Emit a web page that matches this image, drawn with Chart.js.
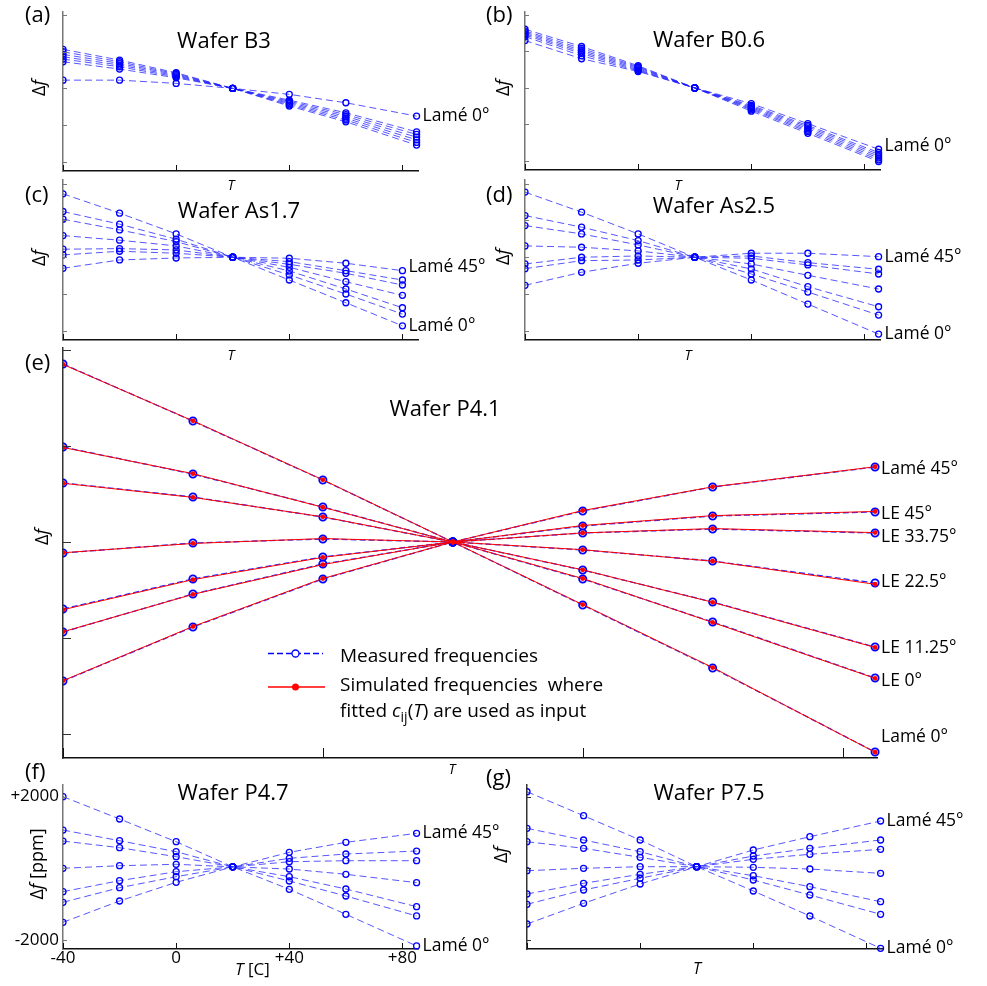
<!DOCTYPE html>
<html>
<head>
<meta charset="utf-8">
<script src="https://cdn.jsdelivr.net/npm/chart.js@4.4.0/dist/chart.umd.min.js"></script>
<style>
  html, body { margin: 0; padding: 0; background: #fff; }
  #wrap { position: relative; width: 987px; height: 986px; overflow: hidden; }
  #wrap canvas { position: absolute; left: 0; top: 0; }
</style>
</head>
<body>
<div id="wrap"></div>
<script>
// Temperature steps (C)
const temps = [-40, -20, 0, 20, 40, 60, 85];
const tempsAs17 = [-40, -20, 0, 20, 40, 60, 80];

// tick values
const xTickVals = [-40, 0, 40, 80];
const yTicks5 = [-2000, -1000, 0, 1000, 2000];
const yTicks3 = [-2000, 0, 2000];

// (a) Wafer B3 : delta f, one row per mode
const waferB3 = [
  [1063, 771, 425, 0, -482, -910, -1545],
  [997, 725, 398, 0, -450, -861, -1471],
  [927, 681, 371, 0, -417, -812, -1400],
  [861, 635, 343, 0, -384, -763, -1327],
  [798, 589, 316, 0, -351, -714, -1253],
  [725, 526, 289, 0, -319, -665, -1183],
  [224, 224, 136, 0, -163, -392, -755]
];
const namesB3 = ["", "", "", "", "", "", "Lamé 0°"];

// (b) Wafer B0.6
const waferB06 = [
  [1608, 1134, 608, 0, -637, -1245, -2017],
  [1561, 1080, 580, 0, -600, -1200, -1970],
  [1526, 1030, 555, 0, -570, -1160, -1920],
  [1488, 985, 525, 0, -540, -1115, -1870],
  [1452, 940, 495, 0, -510, -1070, -1820],
  [1406, 880, 470, 0, -480, -1030, -1771],
  [1297, 799, 450, 0, -430, -980, -1681]
];
const namesB06 = ["", "", "", "", "", "", "Lamé 0°"];

// (c) Wafer As1.7
const waferAs17 = [
  [1725, 1199, 635, 0, -619, -1237, -1864],
  [1243, 899, 490, 0, -482, -1000, -1545],
  [1035, 744, 425, 0, -373, -864, -1373],
  [589, 463, 308, 0, -273, -665, -1036],
  [218, 234, 199, 0, -191, -436, -755],
  [63, 163, 109, 0, -120, -365, -619],
  [-300, -74, -20, 0, -27, -163, -365]
];
const namesAs17 = ["Lamé 0°", "", "", "", "", "", "Lamé 45°"];

// (d) Wafer As2.5
const waferAs25 = [
  [1771, 1226, 635, 0, -619, -1273, -2090],
  [1134, 818, 452, 0, -455, -946, -1572],
  [861, 635, 335, 0, -319, -801, -1346],
  [308, 272, 172, 0, -183, -491, -864],
  [-183, 0, 35, 0, -27, -210, -455],
  [-311, -93, -74, 0, 35, -147, -327],
  [-763, -409, -164, 0, 109, 109, 16]
];
const namesAs25 = ["Lamé 0°", "", "", "", "", "", "Lamé 45°"];

// (e) Wafer P4.1, measured and simulated
const waferP41 = [
  [1854, 1260, 646, 0, -656, -1312, -2187],
  [990, 708, 365, 0, -385, -833, -1417],
  [615, 469, 260, 0, -292, -625, -1094],
  [-115, -10, 31, 0, -83, -198, -427],
  [-698, -385, -156, 0, 94, 135, 94],
  [-938, -542, -229, 0, 167, 271, 313],
  [-1448, -885, -385, 0, 323, 573, 781]
];
const simP41 = [
  [1850, 1262, 648, 0, -652, -1308, -2190],
  [985, 712, 362, 0, -380, -838, -1420],
  [612, 465, 262, 0, -290, -628, -1098],
  [-112, -15, 36, 0, -80, -200, -440],
  [-705, -392, -160, 0, 95, 140, 98],
  [-935, -545, -235, 0, 172, 275, 318],
  [-1445, -880, -380, 0, 328, 575, 784]
];
const namesP41 = ["Lamé 0°", "LE 0°", "LE 11.25°", "LE 22.5°", "LE 33.75°", "LE 45°", "Lamé 45°"];

// (f) Wafer P4.7
const waferP47 = [
  [2000, 1376, 742, 40, -586, -1283, -2167],
  [1068, 770, 463, 40, -354, -773, -1330],
  [760, 575, 324, 40, -234, -577, -1070],
  [0, 73, 112, 40, -20, -167, -401],
  [-652, -345, -95, 40, 184, 212, 212],
  [-949, -541, -234, 40, 279, 399, 482],
  [-1507, -912, -391, 40, 446, 725, 976]
];
const namesP47 = ["Lamé 0°", "", "", "", "", "", "Lamé 45°"];

// (g) Wafer P7.5
const waferP75 = [
  [2137, 1468, 790, 45, -633, -1331, -2232],
  [1116, 790, 463, 45, -326, -745, -1283],
  [742, 558, 307, 45, -206, -513, -932],
  [-67, 0, 45, 45, 28, -20, -140],
  [-717, -419, -167, 45, 251, 391, 530],
  [-1004, -605, -279, 45, 343, 558, 790],
  [-1554, -977, -438, 45, 511, 882, 1320]
];
const namesP75 = ["Lamé 0°", "", "", "", "", "", "Lamé 45°"];

const W = 987, H = 986;
const FAM = '"Open Sans", "Noto Sans", sans-serif';
const wrap = document.getElementById("wrap");

// draw text made of several runs (normal / italic / subscript)
function runs(ctx, parts, x, y, align) {
  ctx.textAlign = "left";
  let w = 0;
  parts.forEach(p => { ctx.font = p[1]; w += ctx.measureText(p[0]).width; });
  let cx = x;
  if (align === "center") cx = x - w / 2;
  if (align === "right") cx = x - w;
  parts.forEach(p => {
    ctx.font = p[1];
    ctx.fillText(p[0], cx, y + (p[2] || 0));
    cx += ctx.measureText(p[0]).width;
  });
}

const signed = v => (v > 0 ? "+" + v : String(v));

const panels = [
  { rows: waferB3, names: namesB3, T: temps, title: "Wafer B3", letter: "(a)",
    box: [63, 12, 418, 171], ymin: -2250, ymax: 2080, yTicks: yTicks5, xmax: 85.5,
    yCol: "#777", tick: [4, 6], letterAt: [25, 22], titleAt: [224, 48], tAt: [231, 190], dfAt: [40, 88], lblDy: [0, 0, 0, 0, 0, 0, 0] },
  { rows: waferB06, names: namesB06, T: temps, title: "Wafer B0.6", letter: "(b)",
    box: [525, 12, 880, 170], ymin: -2250, ymax: 2080, yTicks: yTicks5, xmax: 85.5,
    yCol: "#777", tick: [4, 6], letterAt: [486, 22], titleAt: [709, 47], tAt: [678, 190], dfAt: [504, 88], lblDy: [0, 0, 0, 0, 0, 0, -3] },
  { rows: waferAs17, names: namesAs17, T: tempsAs17, title: "Wafer As1.7", letter: "(c)",
    box: [63, 180, 418, 340], ymin: -2250, ymax: 2100, yTicks: yTicks5, xmax: 85.5,
    yCol: "#777", tick: [4, 6], letterAt: [25, 202], titleAt: [239, 218], tAt: [231, 360], dfAt: [40, 258], lblDy: [0, 0, 0, 0, 0, 0, -4] },
  { rows: waferAs25, names: namesAs25, T: temps, title: "Wafer As2.5", letter: "(d)",
    box: [525, 180, 880, 340], ymin: -2250, ymax: 2100, yTicks: yTicks5, xmax: 85.5,
    yCol: "#777", tick: [4, 6], letterAt: [486, 202], titleAt: [714, 213], tAt: [688, 360], dfAt: [504, 257], lblDy: [0, 0, 0, 0, 0, 0, 0] },
  { rows: waferP41, sim: simP41, names: namesP41, T: temps, title: "Wafer P4.1", letter: "(e)",
    box: [63, 348, 877, 758], ymin: -2250, ymax: 2021, yTicks: yTicks5, xmax: 85.3,
    yCol: "#333", tick: [8, 10], letterAt: [25, 370], titleAt: [445, 416], tAt: [452, 774], dfAt: [43, 537],
    lblDy: [-15, 3, 1, -1, 4, 2, 2], legend: true },
  { rows: waferP47, names: namesP47, T: temps, title: "Wafer P4.7", letter: "(f)",
    box: [63, 785, 418, 949], ymin: -2252, ymax: 2325, yTicks: yTicks3, xmax: 85.5,
    yCol: "#777", tick: [4, 6], letterAt: [25, 779], titleAt: [233, 800], tAt: [235, 975], dfAt: [38, 864],
    lblDy: [0, 0, 0, 0, 0, 0, 0], labelled: true },
  { rows: waferP75, names: namesP75, T: temps, title: "Wafer P7.5", letter: "(g)",
    box: [527, 785, 882, 949], ymin: -2252, ymax: 2325, yTicks: yTicks3, xmax: 85.5,
    yCol: "#333", tick: [4, 6], letterAt: [486, 785], titleAt: [709, 800], tAt: [697, 974], dfAt: [502, 855],
    lblDy: [0, 0, 0, 0, 0, 0, 0] }
];

function decor(p) {
  return {
    id: "decor",
    afterDatasetsDraw(chart) {
      const { ctx, chartArea: ca, scales: { x, y } } = chart;
      ctx.save();
      // inward tick marks
      ctx.lineWidth = 1;
      ctx.strokeStyle = p.yCol;
      y.ticks.forEach(tk => {
        const py = Math.round(y.getPixelForValue(tk.value)) + 0.5;
        ctx.beginPath(); ctx.moveTo(ca.left, py); ctx.lineTo(ca.left + p.tick[0], py); ctx.stroke();
      });
      ctx.strokeStyle = "#111";
      x.ticks.forEach(tk => {
        const px = Math.round(x.getPixelForValue(tk.value)) + 0.5;
        ctx.beginPath(); ctx.moveTo(px, ca.bottom); ctx.lineTo(px, ca.bottom - p.tick[1]); ctx.stroke();
      });

      ctx.fillStyle = "#000";
      // tick labels (only panel f has them)
      if (p.labelled) {
        const tf = "17px " + FAM;
        ctx.textBaseline = "middle";
        y.ticks.forEach(tk => {
          if (tk.value === 0) return;
          runs(ctx, [[signed(tk.value), tf]], ca.left - 4, y.getPixelForValue(tk.value), "right");
        });
        ctx.textBaseline = "top";
        x.ticks.forEach(tk => {
          runs(ctx, [[signed(tk.value), tf]], x.getPixelForValue(tk.value), ca.bottom + 1, "center");
        });
      }

      ctx.textBaseline = "alphabetic";
      runs(ctx, [[p.letter, "22px " + FAM]], p.letterAt[0], p.letterAt[1]);
      runs(ctx, [[p.title, "22px " + FAM]], p.titleAt[0], p.titleAt[1], "center");

      // x axis title
      if (p.labelled) {
        runs(ctx, [["T", "italic 17px " + FAM], [" [C]", "17px " + FAM]], p.tAt[0], p.tAt[1]);
      } else {
        const fs = p.letter === "(g)" ? 16 : 14;
        runs(ctx, [["T", "italic " + fs + "px " + FAM]], p.tAt[0], p.tAt[1], "center");
      }

      // y axis title
      ctx.save();
      ctx.translate(p.dfAt[0], p.dfAt[1]);
      ctx.rotate(-Math.PI / 2);
      ctx.textBaseline = "middle";
      const df = [["Δ", "18px " + FAM], ["f", "italic 18px " + FAM]];
      if (p.labelled) df.push([" [ppm]", "18px " + FAM]);
      runs(ctx, df, 0, 0, "center");
      ctx.restore();

      // mode labels at the right end of the series
      ctx.textBaseline = "middle";
      const lastT = p.T[p.T.length - 1];
      p.names.forEach((nm, i) => {
        if (!nm) return;
        const row = p.rows[i];
        const px = x.getPixelForValue(lastT) + 6;
        const py = y.getPixelForValue(row[row.length - 1]) + p.lblDy[i];
        runs(ctx, [[nm, "17.5px " + FAM]], px, py);
      });

      if (p.legend) {
        ctx.textBaseline = "alphabetic";
        ctx.lineWidth = 1.3;
        ctx.strokeStyle = "#0000ff";
        ctx.setLineDash([6, 3]);
        ctx.beginPath(); ctx.moveTo(268, 653.5); ctx.lineTo(323, 653.5); ctx.stroke();
        ctx.setLineDash([]);
        ctx.fillStyle = "#fff";
        ctx.beginPath(); ctx.arc(295.5, 653.5, 3.5, 0, Math.PI * 2); ctx.fill(); ctx.stroke();
        ctx.strokeStyle = "#ff0000";
        ctx.lineWidth = 1.5;
        ctx.beginPath(); ctx.moveTo(268, 687); ctx.lineTo(325, 687); ctx.stroke();
        ctx.fillStyle = "#ff0000";
        ctx.beginPath(); ctx.arc(295.5, 687, 3.5, 0, Math.PI * 2); ctx.fill();
        ctx.fillStyle = "#000";
        const f = "19px " + FAM, fi = "italic 19px " + FAM;
        runs(ctx, [["Measured frequencies", f]], 340, 662);
        runs(ctx, [["Simulated frequencies  where", f]], 340, 691);
        runs(ctx, [["fitted ", f], ["c", fi], ["ij", "14px " + FAM, 5], ["(", f], ["T", fi], [") are used as input", f]], 340, 717);
      }
      ctx.restore();
    }
  };
}

function makePanel(p) {
  const cv = document.createElement("canvas");
  cv.width = W; cv.height = H;
  wrap.appendChild(cv);
  const [l, t, r, b] = p.box;
  const big = !!p.sim;
  const datasets = [];
  if (p.sim) {
    p.sim.forEach(row => datasets.push({
      data: row.map((v, i) => ({ x: p.T[i], y: v })),
      borderColor: "#ff0000", borderWidth: 1, pointRadius: 2.4,
      pointBackgroundColor: "#ff0000", pointBorderWidth: 0,
      order: 0, clip: { left: 0, top: 10, right: 12, bottom: 10 }
    }));
  }
  p.rows.forEach(row => datasets.push({
    data: row.map((v, i) => ({ x: p.T[i], y: v })),
    borderColor: big ? "rgba(0,0,255,0.85)" : "rgba(30,30,255,0.75)",
    borderWidth: big ? 1.3 : 1, borderDash: big ? [6, 3] : [7, 4],
    pointRadius: big ? 3.6 : 3, pointBorderColor: "#0000ff",
    pointBorderWidth: big ? 1.8 : 1.3, pointBackgroundColor: "rgba(0,0,0,0)",
    order: 1, clip: { left: 0, top: 10, right: 12, bottom: 10 }
  }));

  new Chart(cv, {
    type: "line",
    data: { datasets },
    options: {
      responsive: false,
      animation: false,
      devicePixelRatio: 1,
      layout: { padding: { left: l, top: t, right: W - r, bottom: H - b } },
      plugins: { legend: { display: false }, tooltip: { enabled: false } },
      scales: {
        x: {
          type: "linear", min: -40, max: p.xmax,
          afterFit: s => { s.height = 0; },
          afterBuildTicks: s => { s.ticks = xTickVals.map(v => ({ value: v })); },
          grid: { display: false, drawTicks: false },
          border: { color: "#111", width: 1.5 },
          ticks: { display: false }
        },
        y: {
          type: "linear", min: p.ymin, max: p.ymax,
          afterFit: s => { s.width = 0; },
          afterBuildTicks: s => { s.ticks = p.yTicks.map(v => ({ value: v })); },
          grid: { display: false, drawTicks: false },
          border: { color: p.yCol, width: 1.5 },
          ticks: { display: false }
        }
      }
    },
    plugins: [decor(p)]
  });
}

panels.forEach(makePanel);
</script>
</body>
</html>
